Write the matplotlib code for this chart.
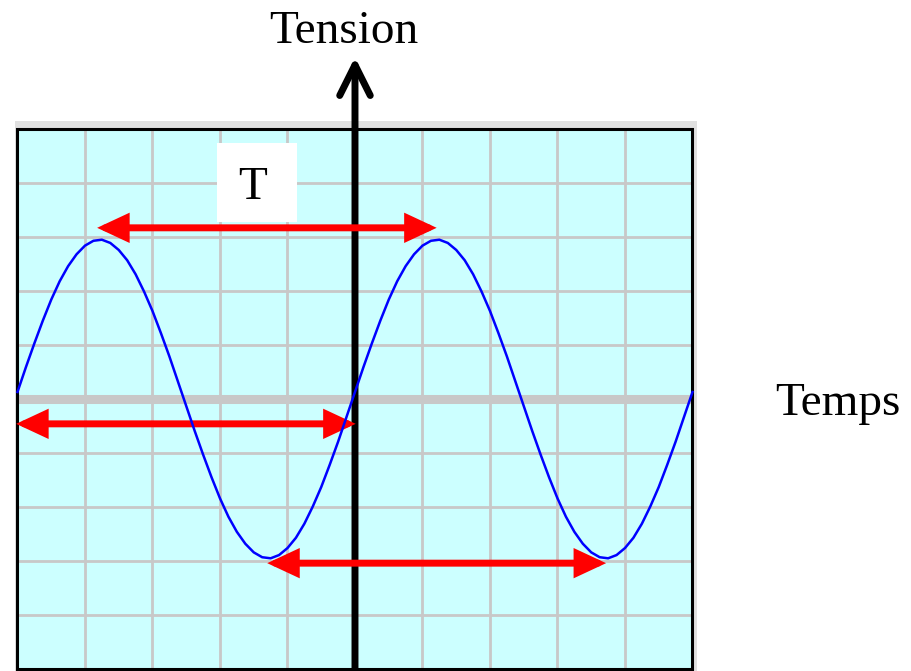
import matplotlib
matplotlib.use('Agg')
import matplotlib.pyplot as plt
from matplotlib.patches import Rectangle, FancyArrowPatch
import numpy as np

# ecran en divisions : 10 x 10, origine au bord gauche / ligne du milieu
temps = np.arange(0, 10.001, 0.125)
demi_periode = [0.13, 0.59, 1.03, 1.45, 1.84, 2.18, 2.46, 2.68, 2.84, 2.93,
                2.95, 2.89, 2.76, 2.57, 2.31, 1.99, 1.63, 1.22, 0.79, 0.33]
tension = (demi_periode + [-v for v in demi_periode]) * 2 + [0.13]
# fleches de periode : (x debut, x fin, y)
fleches = [(1.18, 6.21, 3.17), (-0.02, 5.01, -0.46), (3.70, 8.72, -3.04)]

police = 'Liberation Serif'
gris = '#c8c8c8'

fig = plt.figure(figsize=(9.11, 6.71), dpi=100)
ax = fig.add_axes([0, 0, 1, 1])
ax.set_xlim(-0.259, 13.237)
ax.set_ylim(-5.037, 7.389)
ax.axis('off')

# cadre de l'ecran
ax.add_patch(Rectangle((-0.04, -5.2), 10.11, 10.35, facecolor='#e0e0e0', edgecolor='none', zorder=0))
ax.add_patch(Rectangle((0, -5), 10, 10, facecolor='#ccffff', edgecolor='none', zorder=1))
ax.vlines(np.arange(1, 10), -5, 5, color=gris, lw=2, zorder=2)
ax.hlines([-4, -3, -2, -1, 1, 2, 3, 4], 0, 10, color=gris, lw=2, zorder=2)
ax.hlines(0, 0, 10, color=gris, lw=6.5, zorder=2)
ax.add_patch(Rectangle((0, -5), 10, 10, facecolor='none', edgecolor='black', lw=2.2, zorder=3))

# axe vertical
ax.add_patch(FancyArrowPatch((5, -5.1), (5, 6.33), arrowstyle='->,head_length=22,head_width=11',
                             mutation_scale=1, lw=5, color='black', capstyle='round',
                             joinstyle='round', shrinkA=0, shrinkB=0, zorder=4))

for x0, x1, y in fleches:
    ax.add_patch(FancyArrowPatch((x0, y), (x1, y), arrowstyle='<|-|>,head_length=15,head_width=7',
                                 mutation_scale=1, lw=5, color='red', shrinkA=0, shrinkB=0,
                                 joinstyle='miter', zorder=5))

ax.plot(temps, tension, color='#0000ff', lw=1.8, zorder=6)

# etiquette T
ax.add_patch(Rectangle((2.96, 3.28), 1.18, 1.46, facecolor='white', edgecolor='none', zorder=3.5))
ax.text(3.48, 3.70, 'T', fontsize=34, family=police, ha='center', va='baseline', zorder=7)

ax.text(4.84, 6.59, 'Tension', fontsize=34, family=police, ha='center', va='baseline')
ax.text(12.16, -0.30, 'Temps', fontsize=34, family=police, ha='center', va='baseline')

fig.savefig('out.png', dpi=100)
